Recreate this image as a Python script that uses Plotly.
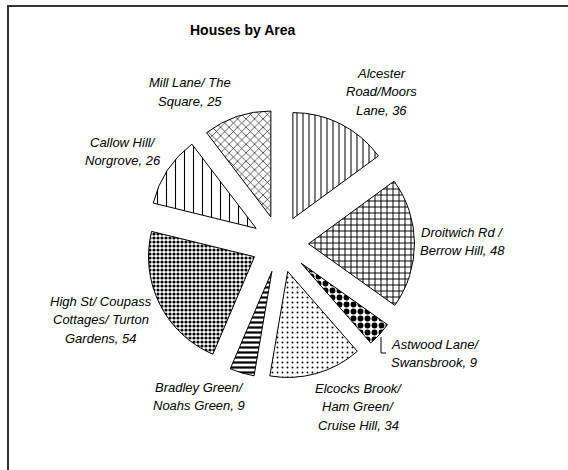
import plotly.graph_objects as go

W, H = 568, 470

# ---- data ----
categories = [
    "Alcester<br>Road/Moors<br>Lane",
    "Droitwich Rd /<br>Berrow Hill",
    "Astwood Lane/<br>Swansbrook",
    "Elcocks Brook/<br>Ham Green/<br>Cruise Hill",
    "Bradley Green/<br>Noahs Green",
    "High St/ Coupass<br>Cottages/ Turton<br>Gardens",
    "Callow Hill/<br>Norgrove",
    "Mill Lane/ The<br>Square",
]
houses = [36, 48, 9, 34, 9, 54, 26, 25]

# ---- styles ----
pattern_shapes = ["|", "+", ".", ".", "-", ".", "|", "x"]
pattern_sizes = [6, 6, 7, 5, 5, 4, 9, 6]
pattern_solid = [0.17, 0.3, 0.55, 0.12, 0.45, 0.5, 0.12, 0.2]
pull_frac = 0.269

# label placement (pixel): x, first-line y, xanchor
label_pos = [
    (381, 73, "center"),
    (462, 232, "center"),
    (389, 344, "left"),
    (358, 388, "center"),
    (199, 387, "center"),
    (101, 301, "center"),
    (123, 142, "center"),
    (190, 83, "center"),
]
line_gap = 18.5


def px(x):
    return x / W


def py(y):
    return 1 - y / H


fig = go.Figure(
    go.Pie(
        labels=categories,
        values=houses,
        sort=False,
        direction="clockwise",
        rotation=0,
        pull=[pull_frac] * len(houses),
        textinfo="none",
        hoverinfo="label+value",
        showlegend=False,
        marker=dict(
            colors=["white"] * len(houses),
            line=dict(color="black", width=1),
            pattern=dict(
                shape=pattern_shapes,
                size=pattern_sizes,
                solidity=pattern_solid,
                fgcolor="black",
                fgopacity=1,
                bgcolor="white",
                fillmode="overlay",
            ),
        ),
        domain=dict(x=[px(145.5), px(414.5)], y=[py(378.5), py(109.5)]),
    )
)

annotations = [
    dict(
        text="<b>Houses by Area</b>",
        x=px(243), y=py(30), xref="paper", yref="paper",
        xanchor="center", yanchor="middle", showarrow=False,
        font=dict(family="Liberation Sans, Arial", size=14, color="black"),
    )
]
for cat, val, (lx, ly, anc) in zip(categories, houses, label_pos):
    lines = cat.split("<br>")
    lines[-1] = f"{lines[-1]}, {val}"
    for i, ln in enumerate(lines):
        annotations.append(
            dict(
                text=f"<i>{ln}</i>",
                x=px(lx), y=py(ly + i * line_gap), xref="paper", yref="paper",
                xanchor=anc, yanchor="middle", showarrow=False,
                font=dict(family="Liberation Sans, Arial", size=13, color="black"),
            )
        )

shapes = [
    # outer chart frame (only top and left edges visible)
    dict(type="rect", xref="paper", yref="paper",
         x0=px(8), x1=1.1, y0=-0.1, y1=py(6),
         line=dict(color="#333333", width=2), fillcolor="rgba(0,0,0,0)"),
    # leader line for the small Astwood slice
    dict(type="path", xref="paper", yref="paper",
         path=f"M {px(381)},{py(337)} L {px(381)},{py(353)} L {px(386)},{py(353)}",
         line=dict(color="black", width=1)),
]

fig.update_layout(
    width=W, height=H,
    margin=dict(l=0, r=0, t=0, b=0),
    paper_bgcolor="white",
    plot_bgcolor="white",
    annotations=annotations,
    shapes=shapes,
)

fig.write_html(
    "out.html",
    config={"displayModeBar": False},
    post_script="document.body.style.margin='0';document.body.style.overflow='hidden';",
)
